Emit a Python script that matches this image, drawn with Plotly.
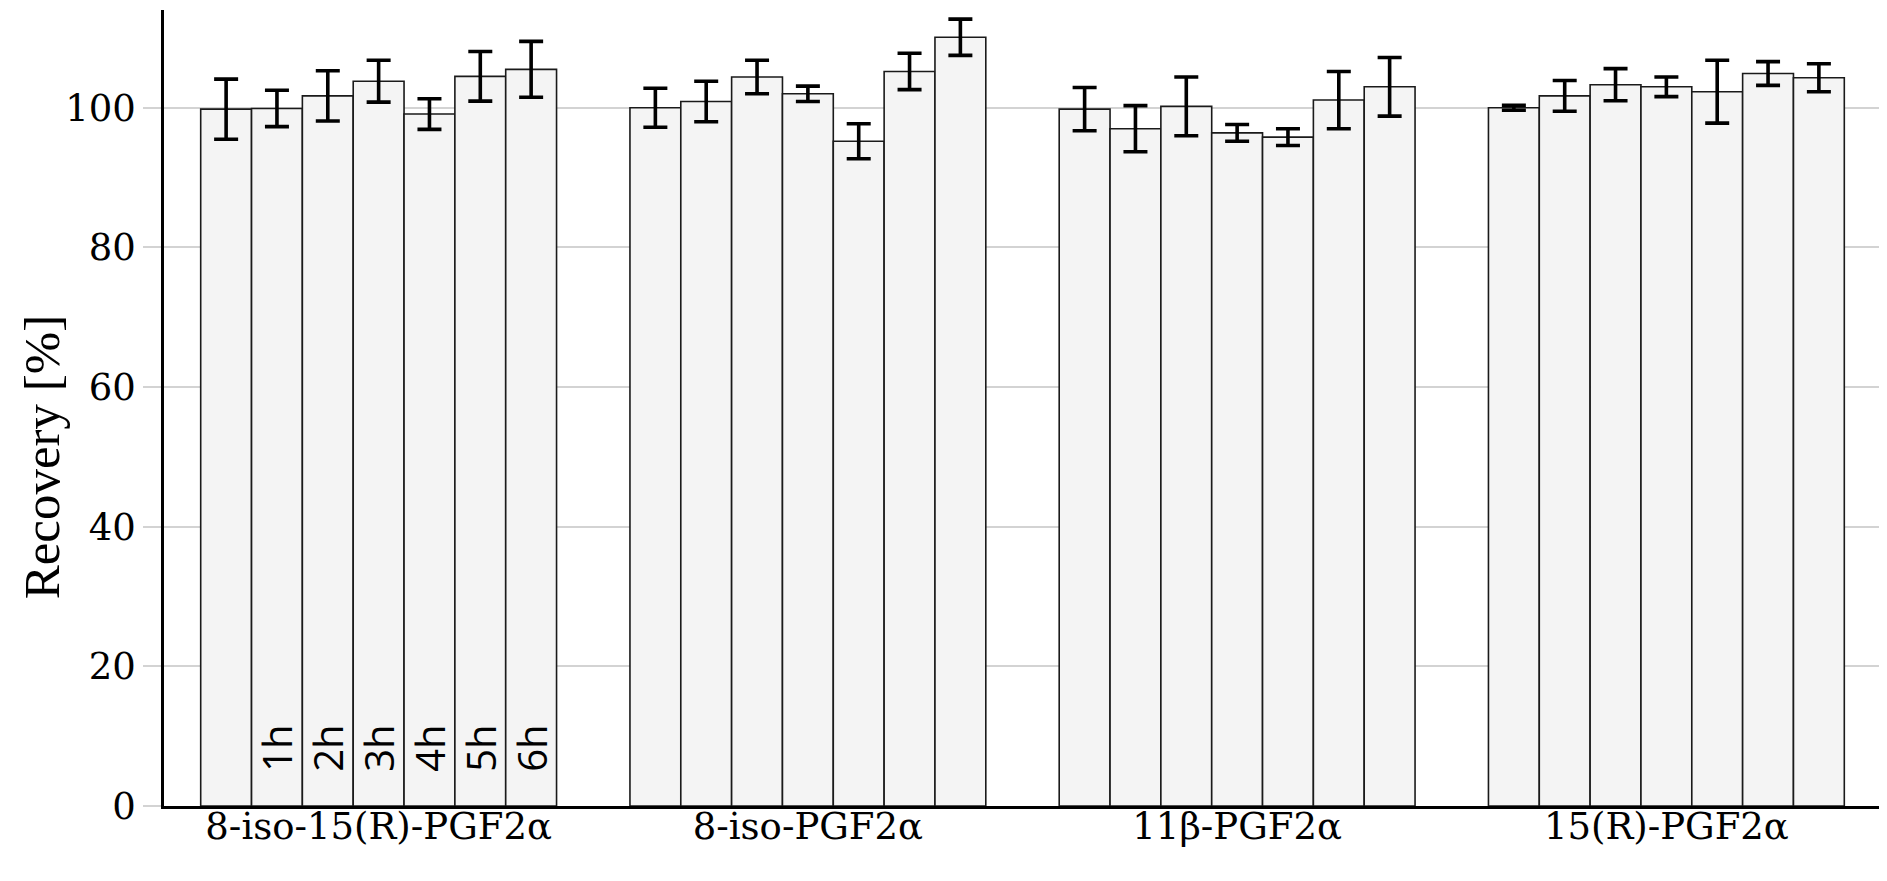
import plotly.graph_objects as go

# ---- data -------------------------------------------------------------
compounds = ["8-iso-15(R)-PGF2α", "8-iso-PGF2α", "11β-PGF2α", "15(R)-PGF2α"]
time_points = ["0h", "1h", "2h", "3h", "4h", "5h", "6h"]
bar_labels = ["", "1h", "2h", "3h", "4h", "5h", "6h"]   # shown in first group only

rec_0h = [99.8, 100.0, 99.8, 100.0]
rec_1h = [99.9, 100.9, 97.0, 101.7]
rec_2h = [101.7, 104.4, 100.2, 103.3]
rec_3h = [103.8, 102.0, 96.4, 103.0]
rec_4h = [99.1, 95.2, 95.8, 102.3]
rec_5h = [104.5, 105.2, 101.1, 104.9]
rec_6h = [105.5, 110.1, 103.0, 104.3]

err_0h = [4.3, 2.8, 3.1, 0.36]
err_1h = [2.6, 2.9, 3.3, 2.2]
err_2h = [3.6, 2.4, 4.2, 2.3]
err_3h = [3.0, 1.1, 1.2, 1.4]
err_4h = [2.2, 2.5, 1.2, 4.5]
err_5h = [3.55, 2.6, 4.1, 1.7]
err_6h = [4.0, 2.6, 4.2, 2.0]

y_title = "Recovery [%]"
y_ticks = [0, 20, 40, 60, 80, 100]

recoveries = [rec_0h, rec_1h, rec_2h, rec_3h, rec_4h, rec_5h, rec_6h]
errors = [err_0h, err_1h, err_2h, err_3h, err_4h, err_5h, err_6h]

# ---- figure -----------------------------------------------------------
PAD = "\u00a0" * 3
fig = go.Figure()
for name, lab, vals, errs in zip(time_points, bar_labels, recoveries, errors):
    texts = [(PAD + lab) if (i == 0 and lab) else "" for i in range(len(compounds))]
    fig.add_trace(go.Bar(
        x=compounds, y=vals, name=name, showlegend=False,
        text=texts, textposition="inside", insidetextanchor="start",
        textangle=-90, constraintext="none",
        textfont=dict(family="Open Sans", size=40, color="black"),
        marker=dict(color="#f4f4f4", line=dict(color="#1a1a1a", width=1.6)),
        error_y=dict(type="data", array=errs, visible=True, color="black",
                     thickness=3.6, width=12),
        cliponaxis=False,
    ))

fig.update_layout(
    width=1879, height=873,
    margin=dict(l=156, r=6, t=2, b=75),
    paper_bgcolor="white", plot_bgcolor="white",
    barmode="group", bargap=0.171, bargroupgap=0,
    xaxis=dict(range=[-0.5, 3.5], showline=True, linecolor="black", linewidth=2.5,
               ticks="", showgrid=False, zeroline=False, ticklabelstandoff=-14,
               tickfont=dict(family="DejaVu Serif", size=37, color="black")),
    yaxis=dict(range=[0, 114], tickvals=y_ticks, showgrid=True, gridcolor="#d3d3d3",
               gridwidth=1.5, showline=True, linecolor="black", linewidth=2.5,
               ticks="outside", ticklen=18, tickcolor="#d3d3d3", tickwidth=1.5,
               zeroline=False,
               tickfont=dict(family="DejaVu Serif", size=37, color="black")),
    annotations=[dict(text=y_title, textangle=-90, xref="paper", yref="paper",
                      x=0, xshift=-122, y=0.438, xanchor="center", yanchor="middle",
                      showarrow=False,
                      font=dict(family="Liberation Serif", size=51, color="black"))],
)

fig.write_html("out.html")
